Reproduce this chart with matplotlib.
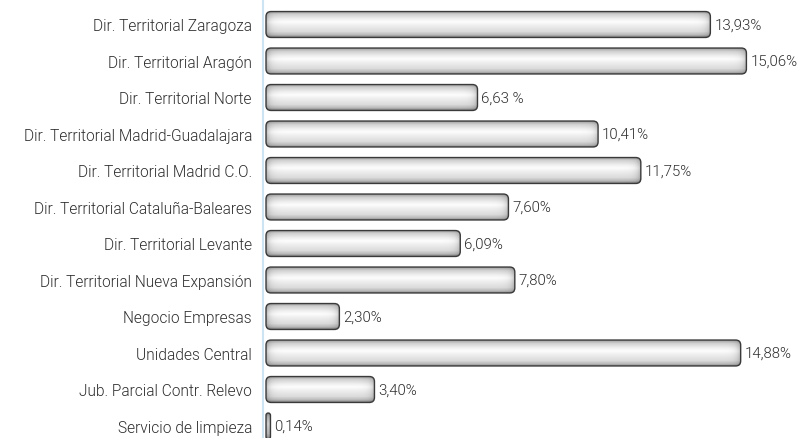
import matplotlib
matplotlib.use('Agg')
import matplotlib.pyplot as plt
import numpy as np
from matplotlib.patches import FancyBboxPatch

labels = ['Dir. Territorial Zaragoza', 'Dir. Territorial Aragón', 'Dir. Territorial Norte',
          'Dir. Territorial Madrid-Guadalajara', 'Dir. Territorial Madrid C.O.',
          'Dir. Territorial Cataluña-Baleares', 'Dir. Territorial Levante',
          'Dir. Territorial Nueva Expansión', 'Negocio Empresas', 'Unidades Central',
          'Jub. Parcial Contr. Relevo', 'Servicio de limpieza']
values = [13.93, 15.06, 6.63, 10.41, 11.75, 7.60, 6.09, 7.80, 2.30, 14.88, 3.40, 0.14]
value_labels = ['13,93%', '15,06%', '6,63 %', '10,41%', '11,75%', '7,60%', '6,09%',
                '7,80%', '2,30%', '14,88%', '3,40%', '0,14%']

W, H, DPI = 806, 439, 100
px_per_unit = 31.9      # pixels per percent
row_pitch = 36.5        # pixels per bar row
bar_h = 0.71            # bar height in row units
ax_left = 263
font = dict(color='#2e2e2e', fontfamily='Roboto', fontweight=300)

fig = plt.figure(figsize=(W / DPI, H / DPI), dpi=DPI)
ax = fig.add_axes([ax_left / W, 0, 1 - ax_left / W, 1])
ax.set_xlim(-3 / px_per_unit, (W - ax_left - 3) / px_per_unit)

# vertical shading profile of a bar (top -> bottom)
prof_pos = [0.0, 0.12, 0.3, 0.42, 0.55, 0.8, 0.92, 1.0]
prof_val = [0.64, 0.82, 0.94, 0.99, 0.94, 0.86, 0.74, 0.58]

aspect = px_per_unit / row_pitch
for i, v in enumerate(values):
    w_px = max(int(round(v * px_per_unit)), 2)
    h_px = int(round(bar_h * row_pitch))
    r = min(5 / px_per_unit, v / 2)
    patch = FancyBboxPatch((0, i - bar_h / 2), v, bar_h,
                           boxstyle='round,pad=0,rounding_size=%f' % r,
                           mutation_aspect=aspect, fc='none', ec='#3a3a3a', lw=1.0, zorder=3)
    ax.add_patch(patch)
    yy = np.interp(np.linspace(0, 1, h_px), prof_pos, prof_val)
    xs = np.arange(w_px) + 0.5
    d = np.minimum(xs, w_px - xs)
    fx = 1 - 0.28 * np.exp(-d / 3.5)
    img = np.outer(yy, fx)
    ax.imshow(img, cmap='gray', vmin=0, vmax=1, aspect='auto', interpolation='bilinear',
              extent=(0, v, i + bar_h / 2, i - bar_h / 2), clip_path=patch, zorder=2)
    ax.text(v + 4 / px_per_unit, i, value_labels[i], va='center', ha='left',
            fontsize=10.8, **font)

ax.set_yticks(range(len(labels)))
ax.set_yticklabels(labels, fontsize=11.2, **font)
ax.tick_params(axis='y', length=0, pad=8)
ax.set_xticks([])
for s in ['top', 'right', 'bottom']:
    ax.spines[s].set_visible(False)
ax.spines['left'].set_color('#cde4f3')
ax.spines['left'].set_linewidth(1.5)
ax.set_ylim((H - 25.5) / row_pitch, -25.5 / row_pitch)

fig.savefig('out.png', dpi=DPI)
